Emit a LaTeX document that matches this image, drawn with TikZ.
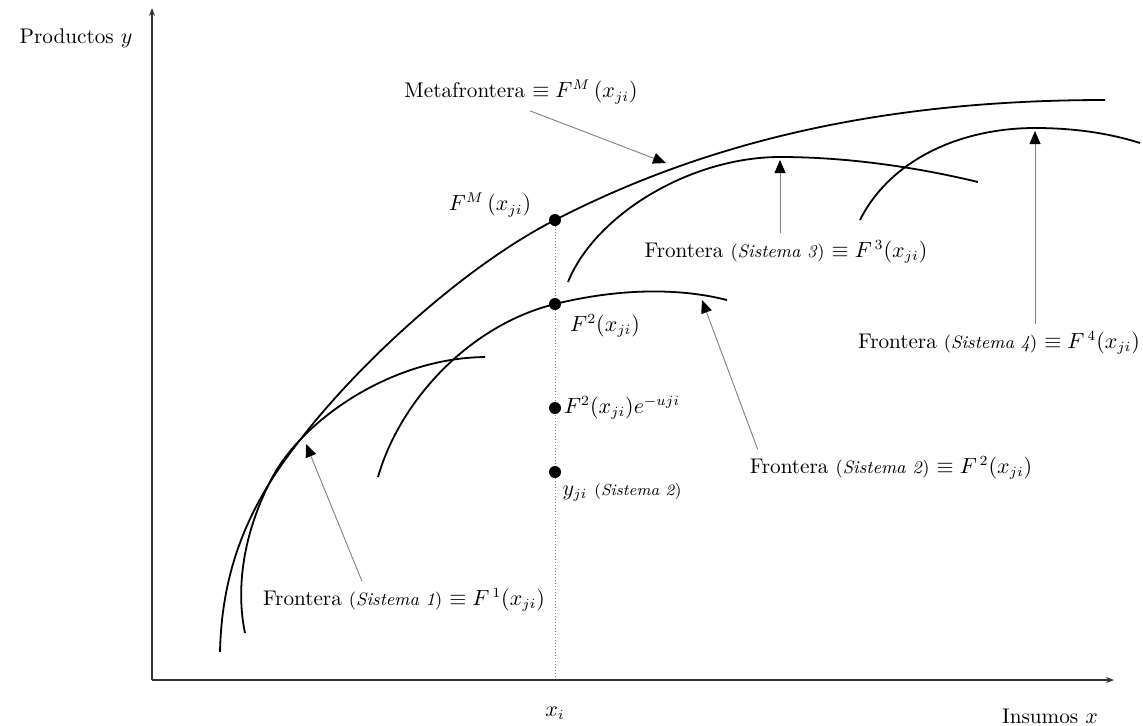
\documentclass[tikz,border=0pt]{standalone}
\usepackage{amsmath,amssymb}
\usetikzlibrary{arrows.meta,backgrounds}
\tikzset{
  frontier/.style={
    line width=0.9pt
  },
  dot/.style={
    shape=circle,
    fill,
    inner sep=0pt,
    minimum size=6pt
  },
  pointer/.style={
    gray,
    line width=0.45pt,
    -{Triangle[length=6.5pt,width=5.5pt,color=black]}
  },
  axis/.style={
    black!80,
    line width=0.8pt,
    -{Stealth[length=4pt,width=3pt]}
  },
  every picture/.style={
    font=\fontsize{10.6}{12}\selectfont
  }
}
\newcommand{\sistema}[1]{{\small(\textit{Sistema #1})}}

\begin{document}
\begin{tikzpicture}[x=0.5pt,y=-0.5pt]
    \useasboundingbox (0,0) rectangle (1143,725);
    % axes
    \coordinate (o) at (152,680);
    \coordinate (ytop) at (152,8);
    \coordinate (xend) at (1114,680);
    \draw[axis] (o) -- (ytop);
    \draw[axis] (o) -- (xend);
    \node (ylab) at (76,38) {Productos $y$};
    \node (xlab) at (1050,716) {Insumos $x$};
    \node (xi) at (555,713) {$x_i$};
    % frontiers
    \draw[frontier] (220,652) .. controls (222,560) and (255,497) .. (300,440)
        .. controls (360,362) and (465,266) .. (555,220)
        .. controls (720,135) and (900,100) .. (1105,100);
    \draw[frontier] (245,633) .. controls (236,590) and (242,535) .. (272,478)
        .. controls (302,421) and (390,358) .. (485,357);
    \draw[frontier] (378,477) .. controls (400,400) and (470,325) .. (555,304)
        .. controls (620,288) and (680,288) .. (727,300);
    \draw[frontier] (568,282) .. controls (595,215) and (690,157) .. (780,157)
        .. controls (850,157) and (920,168) .. (978,182);
    \draw[frontier] (860,220) .. controls (890,160) and (960,128) .. (1035,128)
        .. controls (1080,128) and (1115,135) .. (1140,143);
    % points on x_i
    \coordinate (xbase) at (555,680);
    \foreach \n/\y in {pM/220,p2/304,pe/408,py/472}{
        \node[dot] (\n) at (555,\y) {};
    }
    \begin{scope}[on background layer]
        \draw[gray, densely dotted, line width=0.5pt] (xbase) -- (pM.center);
    \end{scope}
    \node (lM) at (490,205) {$F^{M}\,(x_{ji})$};
    \node (l2) at (605,326) {$F^{2}(x_{ji})$};
    \node (le) at (622,408) {$F^{2}(x_{ji})e^{-uji}$};
    \node (ly) at (622,492) {$y_{ji}$ {\footnotesize(\textit{Sistema 2})}};
    % labels and pointers
    \node (meta) at (521,92) {Metafrontera $\equiv F^{M}\,(x_{ji})$};
    \node (f1) at (404,600) {Frontera \sistema{1} $\equiv F^{\,1}(x_{ji})$};
    \node (f2) at (891,468) {Frontera \sistema{2} $\equiv F^{\,2}(x_{ji})$};
    \node (f3) at (786,252) {Frontera \sistema{3} $\equiv F^{\,3}(x_{ji})$};
    \node (f4) at (999,343) {Frontera \sistema{4} $\equiv F^{\,4}(x_{ji})$};
    \coordinate (tM) at (666,163);
    \coordinate (t1) at (306,444);
    \coordinate (t2) at (702,300);
    \coordinate (t3) at (780,160);
    \coordinate (t4) at (1035,131);
    \draw[pointer] ([xshift=4.5pt]meta.south) -- (tM);
    \draw[pointer] ([xshift=53pt]f1.north west) -- (t1);
    \draw[pointer] ([xshift=7.5pt]f2.north west) -- (t2);
    \draw[pointer] (f3.north -| t3) -- (t3);
    \draw[pointer] (f4.north -| t4) -- (t4);
\end{tikzpicture}
\end{document}
